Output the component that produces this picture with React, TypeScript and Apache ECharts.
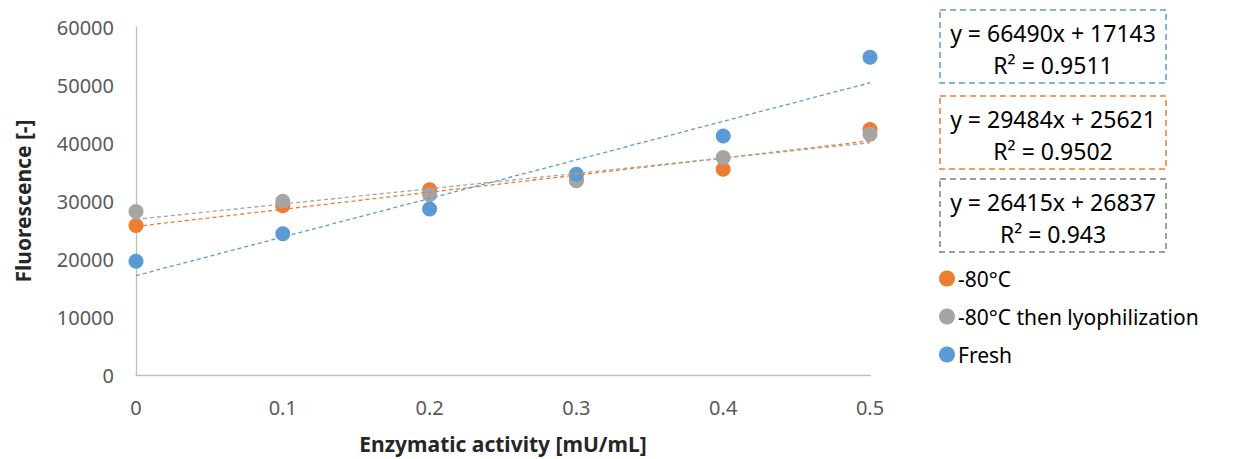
import React, { useEffect, useRef } from "react";
import * as echarts from "echarts";

const xValues = [0, 0.1, 0.2, 0.3, 0.4, 0.5];
const frozen = [25770, 29200, 31940, 33600, 35490, 42340];
const lyophilized = [28170, 29950, 31080, 33490, 37490, 41490];
const fresh = [19600, 24340, 28630, 34630, 41200, 54800];

const seriesNames = ["-80°C", "-80°C then lyophilization", "Fresh"];
const colors = ["#ED7D31", "#A5A5A5", "#5B9BD5"];

// trendline coefficients as displayed: slope, intercept, R²
const trendSlopes = [29484, 26415, 66490];
const trendIntercepts = [25621, 26837, 17143];
const trendR2 = ["0.9502", "0.943", "0.9511"];
const trendRange = [0, 0.5];

const FONT = "'Noto Sans', sans-serif";

export default function App() {
  const ref = useRef<HTMLDivElement>(null);

  useEffect(() => {
    if (!ref.current) return;
    const chart = echarts.init(ref.current, null, { renderer: "svg" });
    const data = [frozen, lyophilized, fresh];

    const scatterSeries = data.map((vals, i) => ({
      name: seriesNames[i],
      type: "scatter",
      data: vals.map((v, j) => [xValues[j], v]),
      symbol: "circle",
      symbolSize: 15,
      itemStyle: { color: colors[i], opacity: 1 },
      z: 2,
    }));

    const trendSeries = trendSlopes.map((m, i) => ({
      name: "trend" + i,
      type: "line",
      data: trendRange.map((x) => [x, trendIntercepts[i] + m * x]),
      symbol: "none",
      lineStyle: { color: colors[i], width: 1.3, type: [4, 3] },
      z: 3,
      silent: true,
    }));

    const boxOrder = [2, 0, 1];
    const boxTops = [10, 96, 179];
    const graphics: any[] = [];
    boxOrder.forEach((idx, k) => {
      const top = boxTops[k];
      graphics.push({
        type: "rect",
        shape: { x: 940, y: top, width: 226, height: 73 },
        style: { fill: "none", stroke: colors[idx] === "#A5A5A5" ? "#7F7F7F" : colors[idx], lineWidth: 1.5, lineDash: [6, 4] },
      });
      graphics.push({
        type: "text",
        x: 1053,
        y: top + 23,
        style: {
          text: `y = ${trendSlopes[idx]}x + ${trendIntercepts[idx]}`,
          fill: "#000",
          font: `23px ${FONT}`,
          textAlign: "center",
          textVerticalAlign: "middle",
        },
      });
      graphics.push({
        type: "text",
        x: 1053,
        y: top + 55,
        style: {
          text: `R² = ${trendR2[idx]}`,
          fill: "#000",
          font: `23px ${FONT}`,
          textAlign: "center",
          textVerticalAlign: "middle",
        },
      });
    });

    chart.setOption({
      animation: false,
      textStyle: { fontFamily: FONT },
      grid: { left: 136, right: 366, top: 27, bottom: 82, containLabel: false },
      legend: {
        orient: "vertical",
        left: 934,
        top: 263,
        itemWidth: 16,
        itemHeight: 16,
        itemGap: 17,
        icon: "circle",
        data: seriesNames,
        textStyle: { fontSize: 21, color: "#000", fontFamily: FONT, padding: [0, 0, 0, -2] },
      },
      xAxis: {
        type: "value",
        min: 0,
        max: 0.5,
        interval: 0.1,
        name: "Enzymatic activity [mU/mL]",
        nameLocation: "middle",
        nameGap: 58,
        nameTextStyle: { fontSize: 21, fontWeight: "bold", color: "#262626", fontFamily: FONT },
        axisLine: { show: true, onZero: false, lineStyle: { color: "#BFBFBF", width: 1.3 } },
        axisTick: { show: false },
        axisLabel: { fontSize: 20, color: "#595959", margin: 22, fontFamily: FONT, formatter: (v: number) => String(v) },
        splitLine: { show: false },
      },
      yAxis: {
        type: "value",
        min: 0,
        max: 60000,
        interval: 10000,
        name: "Fluorescence [-]",
        nameLocation: "middle",
        nameGap: 103,
        nameTextStyle: { fontSize: 21, fontWeight: "bold", color: "#262626", fontFamily: FONT },
        axisLine: { show: true, lineStyle: { color: "#BFBFBF", width: 1.3 } },
        axisTick: { show: false },
        axisLabel: { fontSize: 20, color: "#595959", margin: 22, fontFamily: FONT, formatter: (v: number) => String(v) },
        splitLine: { show: false },
      },
      graphic: graphics,
      series: [...scatterSeries, ...trendSeries],
    });

    return () => chart.dispose();
  }, []);

  return <div ref={ref} style={{ position: "absolute", left: 0, top: 0, width: 1236, height: 459 }} />;
}
